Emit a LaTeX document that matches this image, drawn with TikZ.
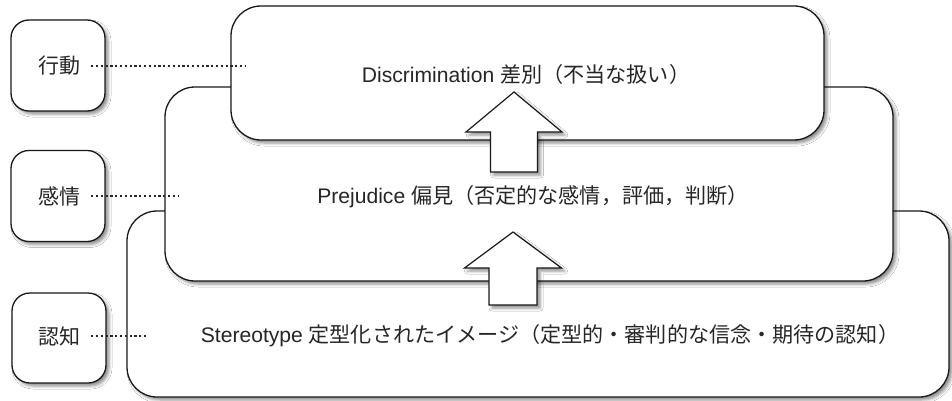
\documentclass[tikz,border=0pt]{standalone}
\usepackage{fontspec}
\setmainfont{Liberation Sans}
\newfontfamily\cjk{Noto Sans CJK JP}
\usetikzlibrary{shadows.blur}
\begin{document}
\begin{tikzpicture}[x=1pt,y=-1pt,
  shd/.style={blur shadow={shadow xshift=3pt,shadow yshift=-3pt,shadow blur radius=3pt,shadow opacity=45}},
  bigbox/.style={draw=black!90,line width=1.3pt,rounded corners=30pt,fill=white,shd,inner sep=0pt},
  sbox/.style={draw=black!90,line width=1.3pt,rounded corners=18pt,fill=white,shd,inner sep=0pt,minimum width=94pt,minimum height=91pt},
  lbl/.style={inner sep=0pt,text=black!85,font=\fontsize{21.1}{25}\selectfont},
  dotline/.style={draw=black!85,line width=2.3pt,dash pattern=on 2.2pt off 2.6pt},
  blockarrow/.style={draw=black!90,line width=1.2pt,fill=white,line join=miter,shd}]
\useasboundingbox (0,0) rectangle (952,401);
\fill[white] (0,0) rectangle (952,401);
% stacked boxes
\node[bigbox,minimum width=822pt,minimum height=186pt] (bot) at (538,304) {};
\node[bigbox,minimum width=728pt,minimum height=194pt] (mid) at (529,184) {};
\node[bigbox,minimum width=593pt,minimum height=134pt] (top) at (527.5,73) {};
% texts
\node[lbl] (ttop) at (526,74) {Discrimination {\cjk 差別（不当な扱い）}};
\node[lbl] (tmid) at (533,197) {Prejudice {\cjk 偏見（否定的な感情，評価，判断）}};
\node[lbl] (tbot) at (550,336) {Stereotype {\cjk 定型化されたイメージ（定型的・審判的な信念・期待の認知）}};
% block arrows
\coordinate (a1) at (514,92);
\draw[blockarrow] (a1) -- ++(48,40) -- ++(-24.5,0) -- ++(0,40) -- ++(-47,0) -- ++(0,-40) -- ++(-24.5,0) -- cycle;
\coordinate (a2) at (513,232);
\draw[blockarrow] (a2) -- ++(48.5,36) -- ++(-24.5,0) -- ++(0,37) -- ++(-48,0) -- ++(0,-37) -- ++(-24.5,0) -- cycle;
% left boxes
\node[sbox] (k1) at (58,65.5) {};
\node[sbox] (k2) at (58,196) {};
\node[sbox,minimum height=90pt] (k3) at (59,338) {};
\node[lbl,font=\cjk\fontsize{21}{25}\selectfont] (l1) at (59,66) {行動};
\node[lbl,font=\cjk\fontsize{21}{25}\selectfont] (l2) at (59,196) {感情};
\node[lbl,font=\cjk\fontsize{21}{25}\selectfont] (l3) at (59,336) {認知};
\coordinate (e1) at (245,66);
\coordinate (e2) at (178,196);
\coordinate (e3) at (148,336);
\draw[dotline] ([xshift=11pt]l1.east) -- (e1);
\draw[dotline] ([xshift=11pt]l2.east) -- (e2);
\draw[dotline] ([xshift=11pt]l3.east) -- (e3);
\end{tikzpicture}
\end{document}
